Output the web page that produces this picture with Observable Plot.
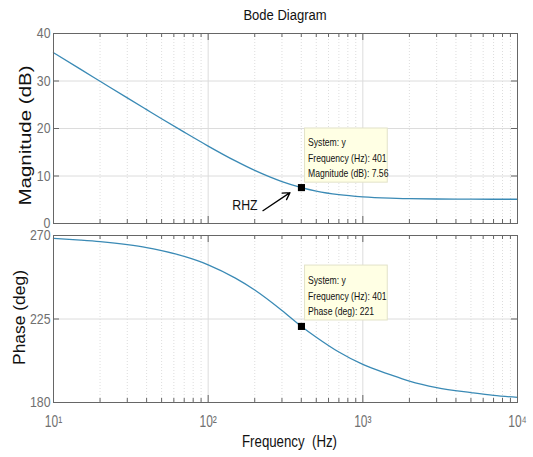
<!DOCTYPE html>
<html><head><meta charset="utf-8">
<script src="https://cdn.jsdelivr.net/npm/d3@7"></script>
<script src="https://cdn.jsdelivr.net/npm/@observablehq/plot@0.6"></script>
<style>
body{margin:0;background:#fff;}
#wrap{position:relative;width:533px;height:457px;overflow:hidden;font-family:"Liberation Sans",Arial,sans-serif;}
#title{position:absolute;left:53px;width:464px;top:6px;text-align:center;font-size:15.5px;line-height:17px;color:#111;transform:scaleX(0.84);transform-origin:center;}
.pl{position:absolute;left:0;}
</style></head><body>
<div id="wrap"><div id="title">Bode Diagram</div></div>
<script>
// ---- data ----
const freq = [10,15,20,30,40,50,70,100,150,200,300,401,500,700,1000,1500,2000,3000,5000,7000,10000];
const magnitude = [35.96,32.44,29.95,26.44,23.97,22.06,19.23,16.3,13.17,11.17,8.82,7.56,6.82,6.06,5.6,5.33,5.23,5.16,5.12,5.11,5.11];
const phase = [268.4,267.5,266.7,265.1,263.5,261.8,258.7,254.2,247.0,240.6,229.6,221.0,215.2,207.2,200.5,195.0,191.5,188.0,185.3,183.8,182.8];
const xTicksMajor = [10,100,1000,10000];
const xTickLabels = ["10¹","10²","10³","10⁴"];
const xTicksMinor = [20,30,40,50,60,70,80,90,200,300,400,500,600,700,800,900,2000,3000,4000,5000,6000,7000,8000,9000];
const magTicks = [0,10,20,30,40];
const phaseTicks = [180,225,270];
const tipMag = [{f:401, v:7.56, text:"System: y\nFrequency (Hz): 401\nMagnitude (dB): 7.56", x1:423, x2:1449, y1:8.6, y2:20.0}];
const tipPhase = [{f:401, v:221, text:"System: y\nFrequency (Hz): 401\nPhase (deg): 221", x1:423, x2:1449, y1:224.2, y2:253.8}];
const rhzLabel = [{f:173, v:3.8, text:"RHZ"}];
const rhzArrow = [{fa:226, va:2.7, fb:338, vb:6.5}];

const magData = freq.map((f,i)=>({f, v:magnitude[i]}));
const phData = freq.map((f,i)=>({f, v:phase[i]}));

const FONT = '"Liberation Sans",Arial,sans-serif';
const W = 533, ML = 53, MR = 16, FW = W-ML-MR;
const LINE = "#3a8ab5", FRAME = "#666", GRID = "#dcdcdc", TICKC = "#707070";

function common(fh, yTicks){
  return [
    Plot.ruleX(xTicksMinor, {stroke:"#d4d4d4", strokeDasharray:"1,2", strokeWidth:0.8}),
    Plot.ruleX(xTicksMajor, {stroke:GRID}),
    Plot.ruleY(yTicks, {stroke:GRID}),
    // inward tick marks
    Plot.ruleX(xTicksMinor, {stroke:FRAME, insetTop: fh-4}),
    Plot.ruleX(xTicksMinor, {stroke:FRAME, insetBottom: fh-4}),
    Plot.ruleX(xTicksMajor, {stroke:FRAME, insetTop: fh-7}),
    Plot.ruleX(xTicksMajor, {stroke:FRAME, insetBottom: fh-7}),
    Plot.ruleY(yTicks, {stroke:FRAME, insetRight: FW-6}),
    Plot.ruleY(yTicks, {stroke:FRAME, insetLeft: FW-6}),
    Plot.axisY({ticks:yTicks, tickSize:0, tickPadding:3, fontSize:14.5, color:TICKC, label:null})
  ];
}

// ---- magnitude plot ----
const H1 = 226, fh1 = H1-33-3;
const p1 = Plot.plot({
  width:W, height:H1, marginTop:33, marginBottom:3, marginLeft:ML, marginRight:MR,
  style:{fontFamily:FONT, background:"transparent", overflow:"visible"},
  x:{type:"log", domain:[10,10000], axis:null},
  y:{domain:[0,40], axis:null},
  marks:[
    ...common(fh1, magTicks),
    Plot.line(magData, {x:"f", y:"v", stroke:LINE, strokeWidth:1.3, curve:"monotone-x"}),
    Plot.frame({stroke:FRAME}),
    Plot.rect(tipMag, {x1:"x1", x2:"x2", y1:"y1", y2:"y2", fill:"#ffffe4", stroke:"#e2e2c8"}),
    Plot.text(tipMag, {x:"x1", y:"y2", text:"text", textAnchor:"start", lineAnchor:"top", dx:3, dy:7, fontSize:10.5, lineHeight:1.45, fill:"#111", className:"tip"}),
    Plot.dot(tipMag, {x:"f", y:"v", symbol:"square", r:4, fill:"black", stroke:null}),
    Plot.arrow(rhzArrow, {x1:"fa", y1:"va", x2:"fb", y2:"vb", stroke:"black", strokeWidth:1.3, headLength:9}),
    Plot.text(rhzLabel, {x:"f", y:"v", text:"text", fontSize:15, fill:"#111", className:"cond"}),
    Plot.text(["Magnitude (dB)"], {frameAnchor:"left", rotate:-90, textAnchor:"start", dx:-28, dy:77, fontSize:16, fill:"#111", className:"ylab1"})
  ]
});
p1.classList.add("pl"); p1.style.top = "0px";

// ---- phase plot ----
const H2 = 231, fh2 = H2-9-55;
const p2 = Plot.plot({
  width:W, height:H2, marginTop:9, marginBottom:55, marginLeft:ML, marginRight:MR,
  style:{fontFamily:FONT, background:"transparent", overflow:"visible"},
  x:{type:"log", domain:[10,10000], axis:null},
  y:{domain:[180,270], axis:null},
  marks:[
    ...common(fh2, phaseTicks),
    Plot.axisX({ticks:xTicksMajor, tickFormat:(d)=>xTickLabels[xTicksMajor.indexOf(d)], tickSize:0, tickPadding:13, fontSize:16, color:TICKC, label:null}),
    Plot.line(phData, {x:"f", y:"v", stroke:LINE, strokeWidth:1.3, curve:"monotone-x"}),
    Plot.frame({stroke:FRAME}),
    Plot.rect(tipPhase, {x1:"x1", x2:"x2", y1:"y1", y2:"y2", fill:"#ffffe4", stroke:"#e2e2c8"}),
    Plot.text(tipPhase, {x:"x1", y:"y2", text:"text", textAnchor:"start", lineAnchor:"top", dx:3, dy:8, fontSize:10.5, lineHeight:1.45, fill:"#111", className:"tip"}),
    Plot.dot(tipPhase, {x:"f", y:"v", symbol:"square", r:4, fill:"black", stroke:null}),
    Plot.text(["Phase (deg)"], {frameAnchor:"left", rotate:-90, textAnchor:"start", dx:-34, dy:46, fontSize:16, fill:"#111", className:"ylab2"}),
    Plot.text(["Frequency\u00a0 (Hz)"], {frameAnchor:"bottom", dx:4, dy:44, fontSize:16, fill:"#111", className:"xlab"})
  ]
});
p2.classList.add("pl"); p2.style.top = "226px";

const wrap = document.getElementById("wrap");
wrap.appendChild(p1); wrap.appendChild(p2);

function fit(svg, sel, len){
  svg.querySelectorAll(sel).forEach(t=>{
    t.setAttribute("textLength", len);
    t.setAttribute("lengthAdjust", "spacingAndGlyphs");
  });
}
function condense(svg, sel, k){
  svg.querySelectorAll(sel).forEach(t=>{
    const spans = t.querySelectorAll("tspan");
    const items = spans.length && t.tagName === "text" && spans[0].getAttribute("x") !== null ? spans : [t];
    items.forEach(e=>{
      const L = e.getComputedTextLength();
      if (L > 0) { e.setAttribute("textLength", (L*k).toFixed(1)); e.setAttribute("lengthAdjust", "spacingAndGlyphs"); }
    });
  });
}
fit(p1, ".ylab1 text", 140);
fit(p2, ".ylab2 text", 95);
fit(p2, ".xlab text", 95);
condense(p1, ".tip text", 0.82);
condense(p2, ".tip text", 0.82);
condense(p1, ".cond text", 0.82);
[p1, p2].forEach(s=>{
  condense(s, 'g[aria-label="y-axis tick label"] text', 0.85);
});
condense(p2, 'g[aria-label="x-axis tick label"] text', 0.75);
</script>
</body></html>
